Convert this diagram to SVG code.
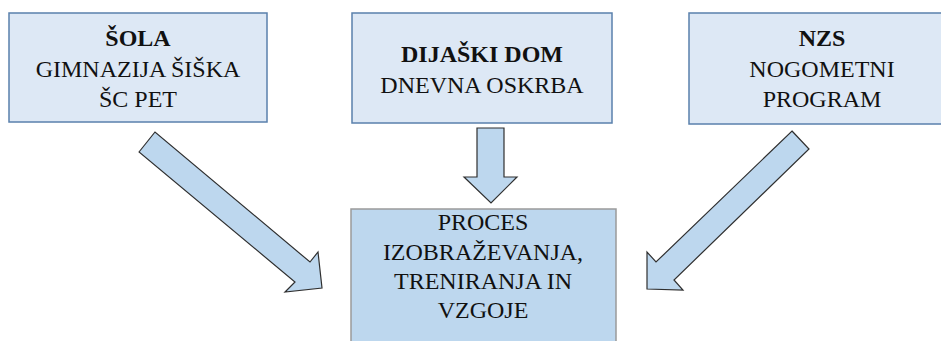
<svg xmlns="http://www.w3.org/2000/svg" width="941" height="341" viewBox="0 0 941 341">
<style>
.top{fill:#dde8f5;stroke:#5a80ac;stroke-width:1.5}
.bot{fill:#bdd7ee;stroke:#9a9a9a;stroke-width:1.5}
.arr{fill:#bdd7ee;stroke:#2f2f2f;stroke-width:1.2;stroke-linejoin:miter}
.t{font-family:'Liberation Serif','DejaVu Serif','Times New Roman',serif;font-size:24px;fill:#111;text-anchor:middle}
.b{font-weight:bold}
</style>
<rect width="941" height="341" fill="#fff"/>
<g id="sola">
<rect class="top" x="9" y="13" width="258" height="109"/>
<text class="t b" x="138" y="46">ŠOLA</text>
<text class="t" x="138" y="77">GIMNAZIJA ŠIŠKA</text>
<text class="t" x="138" y="107">ŠC PET</text>
</g>
<g id="dom">
<rect class="top" x="352" y="13" width="260" height="110"/>
<text class="t b" x="482" y="62">DIJAŠKI DOM</text>
<text class="t" x="482" y="93">DNEVNA OSKRBA</text>
</g>
<g id="nzs">
<rect class="top" x="689" y="13" width="266" height="111"/>
<text class="t b" x="822" y="46">NZS</text>
<text class="t" x="822" y="77">NOGOMETNI</text>
<text class="t" x="822" y="107">PROGRAM</text>
</g>
<g id="proces">
<rect class="bot" x="351" y="209" width="265" height="150"/>
<text class="t" x="483" y="230">PROCES</text>
<text class="t" x="483" y="260">IZOBRAŽEVANJA,</text>
<text class="t" x="483" y="289">TRENIRANJA IN</text>
<text class="t" x="483" y="318">VZGOJE</text>
</g>
<g id="connectors">
<polygon class="arr" points="139,152 155,132 310,262 318,252 322,288 285,292 295,282"/>
<polygon class="arr" points="477,128 504,128 504,177 517,177 491,203 464,177 477,177"/>
<polygon class="arr" points="792,131 809,149 674,280 683,290 647,289 647,252 656,262"/>
</g>
</svg>
